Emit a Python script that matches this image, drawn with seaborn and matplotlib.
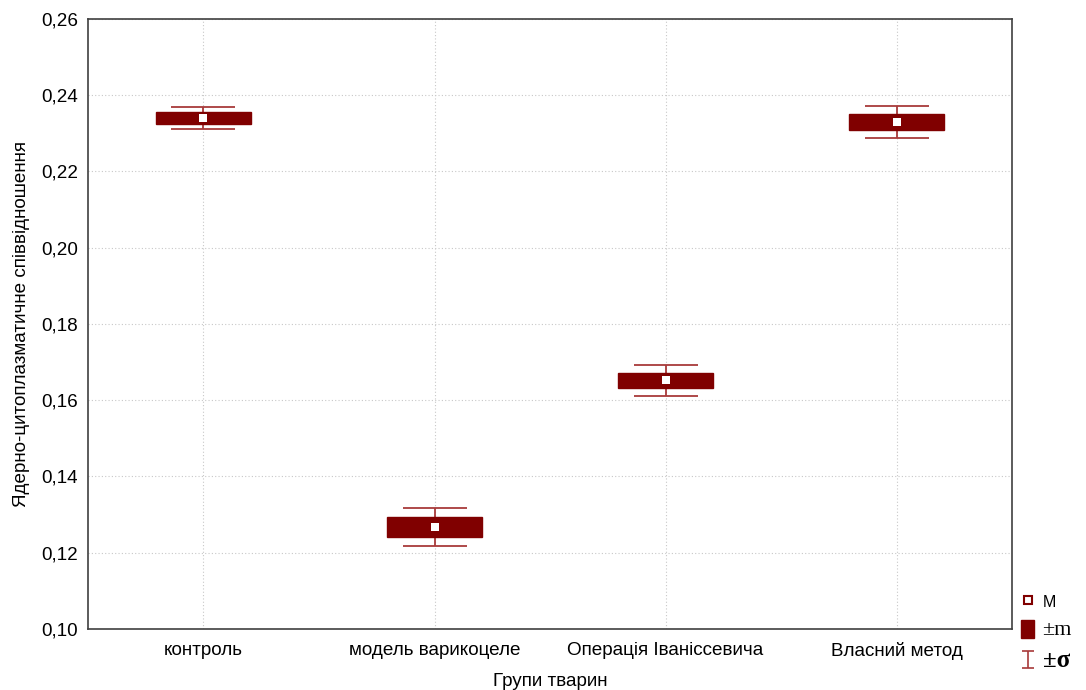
import matplotlib
matplotlib.use("Agg")
import matplotlib.pyplot as plt
from matplotlib.ticker import FuncFormatter, MultipleLocator
from matplotlib.lines import Line2D
from matplotlib.patches import Patch
import seaborn as sns
import pandas as pd
import numpy as np

# Group statistics: mean, standard error (m) and standard deviation (sigma)
groups = ["контроль", "модель варикоцеле", "Операція Іваніссевича", "Власний метод"]
means = [0.2340, 0.1267, 0.1652, 0.2331]
sem = [0.0015, 0.0026, 0.0020, 0.0021]
sd = [0.0029, 0.0050, 0.0041, 0.0042]

df = pd.DataFrame({"group": groups, "mean": means, "m": sem, "sd": sd})

sns.set_style("white")
plt.rcParams["font.family"] = ["Liberation Sans", "DejaVu Sans"]
plt.rcParams["text.color"] = "black"
plt.rcParams["axes.labelcolor"] = "black"
plt.rcParams["xtick.color"] = "black"
plt.rcParams["ytick.color"] = "black"

box_color = "#800000"
whisker_color = "#a83a3a"
fs = 13.6

fig = plt.figure(figsize=(10.86, 6.90), dpi=100)
ax = fig.add_axes([0.081, 0.0884, 0.851, 0.8841])

x = np.arange(len(df))

# +/- sigma whiskers
ax.errorbar(x, df["mean"], yerr=df["sd"], fmt="none", ecolor=whisker_color,
            elinewidth=1.3, capsize=23, capthick=1.3, zorder=2)
# +/- m boxes
ax.bar(x, 2 * df["m"], bottom=df["mean"] - df["m"], width=0.41,
       color=box_color, edgecolor=box_color, zorder=3)
# means
sns.scatterplot(x=x, y=df["mean"], marker="s", s=28, color="white",
                edgecolor="white", linewidth=0, zorder=4, ax=ax, legend=False)

ax.set_xlim(-0.5, len(df) - 0.5)
ax.set_ylim(0.10, 0.26)
ax.yaxis.set_major_locator(MultipleLocator(0.02))
ax.yaxis.set_major_formatter(FuncFormatter(lambda v, p: f"{v:.2f}".replace(".", ",")))
ax.set_xticks(x)
ax.set_xticklabels(groups)

ax.grid(True, color="#c8c8c8", linestyle=(0, (1, 2)), linewidth=0.8)
ax.set_axisbelow(True)
for s in ax.spines.values():
    s.set_color("#404040")
    s.set_linewidth(1.2)
    s.set_visible(True)
ax.tick_params(axis="y", direction="out", length=4, width=1, color="#404040",
               labelsize=fs, pad=3)
ax.tick_params(axis="x", direction="in", length=4, width=1, color="#404040",
               labelsize=fs, pad=9)

ax.set_xlabel("Групи тварин", fontsize=fs, labelpad=10)
ax.set_ylabel("Ядерно-цитоплазматичне співвідношення", fontsize=fs, labelpad=8)

# Legend beside the plot area; a small stand-in errorbar provides the I-shaped key
h_err = ax.errorbar([np.nan], [np.nan], yerr=[0.001], fmt="none", ecolor=whisker_color,
                    elinewidth=1.2, capsize=4, capthick=1.2)
h_mean = Line2D([], [], marker="s", linestyle="none", markersize=6,
                markerfacecolor="white", markeredgecolor=box_color, markeredgewidth=1.5)
h_box = Patch(facecolor=box_color, edgecolor=box_color)
leg = fig.legend([h_mean, h_box, h_err], ["M", "±m", "±σ"],
                 loc="upper left", bbox_to_anchor=(0.940, 0.141), frameon=False,
                 handlelength=0.8, handleheight=1.3, handletextpad=0.5,
                 labelspacing=0.55, fontsize=12, borderaxespad=0, borderpad=0)
texts = leg.get_texts()
texts[0].set_fontsize(11.5)
texts[1].set_family(["Liberation Serif", "DejaVu Serif"])
texts[1].set_fontsize(16)
texts[2].set_family(["Liberation Serif", "DejaVu Serif"])
texts[2].set_fontsize(18)
texts[2].set_fontweight("bold")

fig.savefig("out.png", dpi=100)
